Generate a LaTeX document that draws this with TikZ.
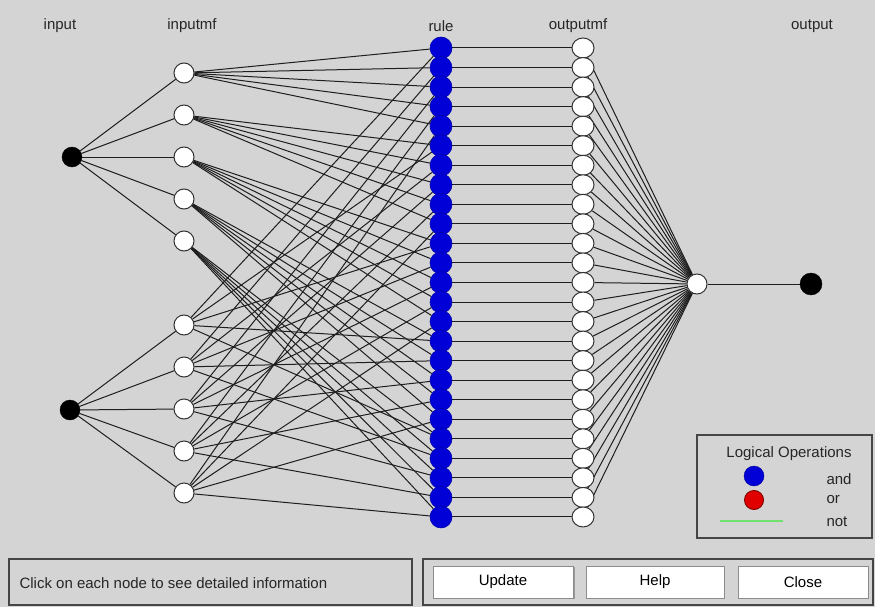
\documentclass[tikz,border=0pt]{standalone}
\usepackage{fontspec}
\setmainfont{Liberation Sans}
\definecolor{bgc}{RGB}{212,212,212}
\definecolor{edgec}{RGB}{30,30,30}
\definecolor{rblue}{RGB}{0,0,215}
\definecolor{rred}{RGB}{225,0,0}
\definecolor{lgreen}{RGB}{110,225,110}
\definecolor{framec}{RGB}{70,70,70}
\pgfdeclarelayer{bgl}
\pgfdeclarelayer{edl}
\pgfsetlayers{bgl,edl,main}
\tikzset{
  lbl/.style={font=\fontsize{15}{18}\selectfont, text=black!85},
  blk/.style={circle, fill=black, draw=black, inner sep=0pt, minimum size=20pt},
  mfn/.style={circle, fill=white, draw=black!80, line width=1pt, inner sep=0pt, minimum size=20pt},
  omfn/.style={ellipse, fill=white, draw=black!80, line width=1pt, inner sep=0pt, minimum width=22pt, minimum height=20pt},
  rulen/.style={circle, fill=rblue, draw=rblue!80!black, line width=0.6pt, inner sep=0pt, minimum size=22pt},
  conn/.style={draw=edgec, line width=1pt},
  panel/.style={draw=framec, line width=2pt},
  btn/.style={fill=white, draw=black!45, line width=0.8pt, minimum width=140pt, minimum height=32pt, inner sep=0pt, font=\fontsize{15}{18}\selectfont},
}
\usetikzlibrary{shapes.geometric}
\begin{document}
\begin{tikzpicture}[x=1pt,y=-1pt]
\useasboundingbox (0,0) rectangle (875,607);
\begin{pgfonlayer}{bgl}
\fill[bgc] (0,0) rectangle (875,607);
\end{pgfonlayer}
% labels
\node[lbl] (t1) at (60,26) {input};
\node[lbl] (t2) at (192,26) {inputmf};
\node[lbl] (t3) at (441,26) {rule};
\node[lbl] (t4) at (578,26) {outputmf};
\node[lbl] (t5) at (812,26) {output};
% input nodes
\node[blk] (in1) at (72,157) {};
\node[blk] (in2) at (70,410) {};
% input mfs
\foreach \i/\y in {1/73,2/115,3/157,4/199,5/241} \node[mfn] (a\i) at (184,\y) {};
\foreach \i/\y in {1/325,2/367,3/409,4/451,5/493} \node[mfn] (b\i) at (184,\y) {};
% rules and output mfs
\foreach \k in {1,...,25} {
  \pgfmathsetmacro\yy{48+(\k-1)*19.54}
  \node[rulen] (r\k) at (441,\yy) {};
  \node[omfn] (o\k) at (583,\yy) {};
}
\node[mfn] (agg) at (697,284) {};
\node[blk, minimum size=22pt] (out) at (811,284) {};
% edges
\begin{pgfonlayer}{edl}
\foreach \i in {1,...,5} {
  \draw[conn] (in1) -- (a\i);
  \draw[conn] (in2) -- (b\i);
}
\foreach \k in {1,...,25} {
  \pgfmathtruncatemacro\ii{floor((\k-1)/5)+1}
  \pgfmathtruncatemacro\jj{mod(\k-1,5)+1}
  \draw[conn] (a\ii) -- (r\k);
  \draw[conn] (b\jj) -- (r\k);
  \draw[conn] (r\k) -- (o\k);
  \draw[conn] (o\k) -- (agg);
}
\draw[conn] (agg) -- (out);
\end{pgfonlayer}
% legend
\draw[panel] (697,435) rectangle (872,538);
\node[lbl] (lg) at (789,454) {Logical Operations};
\node[circle, fill=rblue, draw=rblue!70!black, inner sep=0pt, minimum size=20pt] (lb) at (754,476) {};
\node[circle, fill=rred, draw=rred!60!black, line width=1pt, inner sep=0pt, minimum size=19pt] (lr) at (754,500) {};
\coordinate (g1) at (720,521);
\coordinate (g2) at (783,521);
\draw[lgreen, line width=1.5pt] (g1) -- (g2);
\node[lbl, anchor=west] (land) at (823,479) {and};
\node[lbl, anchor=west] (lor) at (823,500) {or};
\node[lbl, anchor=west] (lnot) at (823,522) {not};
% bottom panels
\draw[panel] (9,559) rectangle (412,605);
\node[lbl, anchor=west] (msg) at (16,583) {Click on each node to see detailed information};
\draw[panel] (423,559) rectangle (873,605);
\fill[black!40] (435,567) rectangle (575,599);
\node[btn] (bu) at (503,582) {Update};
\fill[black!40] (587,567) rectangle (725,599);
\node[btn, minimum width=138pt] (bh) at (655,582) {Help};
\fill[black!40] (739,567) rectangle (869,599);
\node[btn, minimum width=130pt] (bc) at (803,582) {Close};
\end{tikzpicture}
\end{document}
